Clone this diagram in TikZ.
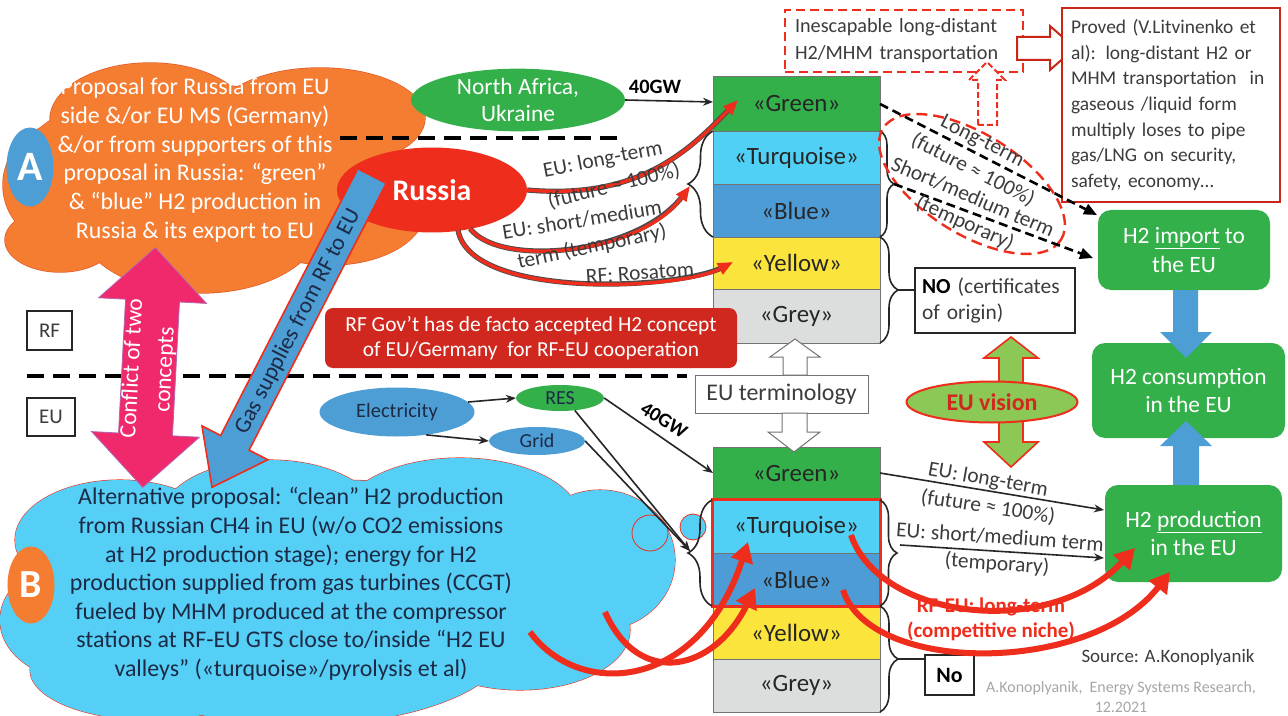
\documentclass[tikz,border=0pt]{standalone}
\usepackage{fontspec}
\setmainfont{Carlito}
\usetikzlibrary{shapes.geometric,arrows.meta,decorations.pathreplacing,calc}
\definecolor{corange}{RGB}{245,125,50}
\definecolor{corline}{RGB}{225,90,40}
\definecolor{cblueA}{RGB}{78,158,214}
\definecolor{ccloudB}{RGB}{85,207,245}
\definecolor{cgreen}{RGB}{52,176,75}
\definecolor{cturq}{RGB}{80,208,245}
\definecolor{cblue}{RGB}{78,156,214}
\definecolor{cyellow}{RGB}{251,228,60}
\definecolor{cgrey}{RGB}{220,222,222}
\definecolor{cred}{RGB}{238,45,28}
\definecolor{cdred}{RGB}{208,40,30}
\definecolor{cpink}{RGB}{240,40,108}
\definecolor{clgreen}{RGB}{140,200,85}
\definecolor{ctext}{RGB}{60,60,60}
\definecolor{cnavy}{RGB}{28,42,70}
\newcommand{\myfs}[2]{\fontsize{#1}{#2}\selectfont}
\def\cloudAlist{150/120/100/57, 320/118/105/50, 75/185/72/65, 200/225/120/68, 330/210/95/55, 60/240/55/32, 200/165/180/80}
\def\cloudBlist{120/540/105/60, 270/520/110/60, 460/520/120/62, 600/560/75/70, 80/620/80/60, 300/640/210/85, 520/630/110/60, 150/670/120/50, 330/580/300/100}
\begin{document}
\begin{tikzpicture}[x=1bp,y=-1bp,
 lbl/.style={font=\myfs{21.5}{24}, text=ctext, inner sep=0},
 stk/.style={draw=black!55, line width=0.8bp, minimum width=167bp, minimum height=53bp, inner sep=0, font=\myfs{25}{28}, text=black!85},
 brc/.style={decorate, decoration={brace, amplitude=#1bp}, line width=1.6bp, draw=black!85},
 dline/.style={line width=4.5bp, dash pattern=on 17bp off 9bp, draw=black},
 barr/.style={line width=1.6bp, draw=black!85, -{Stealth[length=10bp,width=8bp]}},
 darr/.style={line width=2.6bp, draw=black, dash pattern=on 9bp off 5bp, -{Triangle[length=13bp,width=11bp]}},
 rarr/.style={line width=3.4bp, draw=cred, -{Triangle[length=15bp,width=12bp]}, preaction={draw=black!70, line width=5.2bp, -, shorten >=10bp}},
 rarrb/.style={line width=6bp, draw=cred, -{Triangle[length=20bp,width=22bp]}},
 gbox/.style={rounded corners=13bp, fill=cgreen, text=white, align=center, font=\myfs{23.5}{29}, inner sep=0}
]
\fill[white] (0,0) rectangle (1288,716);
\useasboundingbox (0,0) rectangle (1288,716);

% ---------- clouds ----------
\foreach \a/\b/\c/\d in \cloudAlist
  \draw[corline, line width=1.4bp] (\a,\b) ellipse [x radius=\c, y radius=\d];
\foreach \a/\b/\c/\d in \cloudAlist
  \fill[corange] (\a,\b) ellipse [x radius=\c, y radius=\d];
\foreach \a/\b/\c/\d in \cloudBlist
  \draw[cred, line width=1.1bp] (\a,\b) ellipse [x radius=\c, y radius=\d];
\foreach \a/\b/\c/\d in \cloudBlist
  \fill[ccloudB] (\a,\b) ellipse [x radius=\c, y radius=\d];
\filldraw[fill=ccloudB, draw=cred, line width=0.8bp] (650,533) circle [radius=18];
\filldraw[fill=ccloudB, draw=cred, line width=0.8bp] (693,527) circle [radius=13];

% ---------- dashed separators ----------
\coordinate (d1a) at (340,138); \coordinate (d1b) at (618,138);
\draw[dline] (d1a) -- (d1b);
\coordinate (d2a) at (27,376); \coordinate (d2b) at (687,376);
\draw[dline] (d2a) -- (d2b);

% ---------- badges and cloud texts ----------
\node[ellipse, fill=cblueA, minimum width=47bp, minimum height=79bp, inner sep=0, text=white, font=\myfs{42}{42}\bfseries] (A) at (30,167) {A};
\node[ellipse, fill=corange, minimum width=47bp, minimum height=77bp, inner sep=0, text=white, font=\myfs{40}{40}\bfseries] (B) at (31,585) {B};
\node[text=white, align=center, inner sep=0, font=\myfs{24}{28.8}] (tA) at (195,160)
 {Proposal for Russia from EU\\side \&/or EU MS (Germany)\\\&/or from supporters of this\\proposal in Russia: “green”\\\& “blue” H2 production in\\Russia \& its export to EU};
\node[text=cnavy, align=center, inner sep=0, font=\myfs{24}{28.7}] (tB) at (291,584)
 {Alternative proposal: “clean” H2 production\\from Russian CH4 in EU (w/o CO2 emissions\\at H2 production stage); energy for H2\\production supplied from gas turbines (CCGT)\\fueled by MHM produced at the compressor\\stations at RF-EU GTS close to/inside “H2 EU\\valleys” («turquoise»/pyrolysis et al)};

% ---------- RF / EU labels ----------
\node[draw=black!85, line width=1.6bp, minimum width=45bp, minimum height=39bp, inner sep=0, font=\myfs{21}{22}, text=ctext] (RF) at (49.5,330.5) {RF};
\node[draw=black!85, line width=1.6bp, minimum width=48bp, minimum height=38bp, inner sep=0, font=\myfs{21}{22}, text=ctext] (EU) at (51,417) {EU};

% ---------- ellipses top ----------
\node[ellipse, fill=cgreen, minimum width=214bp, minimum height=54bp, inner sep=0, text=white, align=center, font=\myfs{23.5}{28}] (NA) at (518,100) {North Africa,\\Ukraine};
\node[ellipse, fill=cred, minimum width=190bp, minimum height=85bp, inner sep=0, text=white, font=\myfs{30}{32}\bfseries] (RU) at (432,190) {Russia};

% ---------- conflict arrow ----------
\begin{scope}[shift={(149,367.5)}, rotate=-3]
\filldraw[fill=cpink, draw=violet!60, line width=0.8bp] (0,-120) -- (54,-67) -- (27,-67) -- (27,67) -- (54,67) -- (0,120) -- (-54,67) -- (-27,67) -- (-27,-67) -- (-54,-67) -- cycle;
\end{scope}
\node[rotate=87, text=white, align=center, inner sep=0, font=\myfs{23.5}{33}] (conf) at (149,369) {Conflict of two\\concepts};

% ---------- gas supplies arrow ----------
\begin{scope}[shift={(372,176)}, rotate=-117.2]
\filldraw[fill=cblueA, draw=cred, line width=1.6bp] (0,-16) -- (300,-16) -- (300,-37) -- (350,0) -- (300,37) -- (300,16) -- (0,16) -- cycle;
\end{scope}
\node[rotate=62.8, text=cnavy, inner sep=0, font=\myfs{23}{24}] (gas) at (298,322) {Gas supplies from RF to EU};

% ---------- upper stack ----------
\node[stk, fill=cgreen, minimum height=55bp] (ug) at (796.5,103.5) {«Green»};
\node[stk, fill=cturq] (ut) at (796.5,157.5) {«Turquoise»};
\node[stk, fill=cblue] (ub) at (796.5,210.5) {«Blue»};
\node[stk, fill=cyellow, minimum height=52bp] (uy) at (796.5,263) {«Yellow»};
\node[stk, fill=cgrey, minimum height=54bp] (ugr) at (796.5,316) {«Grey»};
\draw[brc=25] (713,237) -- (713,131);
\draw[brc=14] (880,131) -- (880,237);
\draw[brc=18] (880,237) -- (880,343);
\coordinate (ulb) at (690,186);
\coordinate (urb1) at (894,184);
\coordinate (urb2) at (898,290);

% ---------- lower stack ----------
\node[stk, fill=cgreen] (lg) at (796.5,473.5) {«Green»};
\node[stk, fill=cturq] (lt) at (796.5,526.5) {«Turquoise»};
\node[stk, fill=cblue] (lb) at (796.5,579.5) {«Blue»};
\node[stk, fill=cyellow] (ly) at (796.5,632.5) {«Yellow»};
\node[stk, fill=cgrey] (lgr) at (796.5,685.5) {«Grey»};
\draw[cred, line width=2.8bp] (lt.north west) rectangle (lb.south east);
\draw[brc=24] (712,606) -- (712,500);
\draw[brc=17] (880,500) -- (880,606);
\draw[brc=18] (880,606) -- (880,712);
\coordinate (llb) at (690,551);
\coordinate (lrb1) at (900,545);
\coordinate (lrb2) at (898,659);

% ---------- RF Gov box ----------
\node[fill=cdred, rounded corners=8bp, minimum width=412bp, minimum height=60bp, inner sep=0, text=white, align=center, font=\myfs{21.5}{25}] (gov) at (531,338) {RF Gov’t has de facto accepted H2 concept\\of EU/Germany\ \ for RF-EU cooperation};

% ---------- electricity ----------
\node[ellipse, fill=cblueA, minimum width=155bp, minimum height=49bp, inner sep=0, font=\myfs{20.5}{22}, text=cnavy] (el) at (397,412) {Electricity};
\node[ellipse, fill=cgreen, minimum width=88bp, minimum height=26bp, inner sep=0, font=\myfs{20}{22}, text=cnavy] (res) at (560,398) {RES};
\node[ellipse, fill=cblueA, minimum width=96bp, minimum height=28bp, inner sep=0, font=\myfs{20}{22}, text=cnavy] (grid) at (537,441) {Grid};
\draw[barr] (el.8) -- (res.west);
\draw[barr] (el.-38) -- (grid.west);
\coordinate (lgIn) at (713,473);
\draw[barr] (res.east) -- (lgIn);
\draw[barr] (res.-40) -- (llb);
\draw[barr] (grid.east) -- (llb);
\node[rotate=-32, inner sep=0, font=\myfs{20}{22}\bfseries] (gw2) at (664,420) {40GW};

% ---------- top inputs ----------
\node[inner sep=0, font=\myfs{20.5}{22}\bfseries] (gw1) at (655,87) {40GW};
\coordinate (ugIn) at (713,102);
\draw[barr] (NA.east) -- (ugIn);

% ---------- Russia red arrows ----------
\coordinate (r1e) at (738,100);
\coordinate (r2s) at (470,228.5);
\coordinate (r3s) at (458,230);
\coordinate (r3e) at (733,262);
\draw[rarr] (RU.east) .. controls (640,200) and (690,150) .. (r1e);
\draw[rarr] (r2s) .. controls (500,268) and (640,255) .. (ulb);
\draw[rarr] (r3s) .. controls (470,300) and (680,290) .. (r3e);
\node[lbl, rotate=11] (l1) at (603,160) {EU: long-term};
\node[lbl, rotate=14] (l2) at (614,186) {(future ≈ 100\%)};
\node[lbl, rotate=9] (l3) at (582,220) {EU: short/medium};
\node[lbl, rotate=12] (l4) at (592,247) {term (temporary)};
\node[lbl, rotate=4] (l5) at (640,273) {RF: Rosatom};

% ---------- EU terminology ----------
\node[draw=black!55, fill=white, line width=1bp, minimum width=173bp, minimum height=38bp, inner sep=0, font=\myfs{24}{26}, text=ctext] (term) at (781.5,394) {EU terminology};
\filldraw[fill=white, draw=black!55, line width=1bp] (783,375) -- (783,357) -- (770,357) -- (795,339) -- (820,357) -- (807,357) -- (807,375) -- cycle;
\filldraw[fill=white, draw=black!55, line width=1bp] (782,413) -- (782,432) -- (768,432) -- (794,452) -- (820,432) -- (807,432) -- (807,413) -- cycle;

% ---------- NO box ----------
\node[draw=black!85, line width=1.6bp, minimum width=160bp, minimum height=65bp, inner sep=0, text width=146bp, align=left, font=\myfs{21.5}{27}, text=ctext] (NO) at (995,300.5) {\textbf{\color{black}NO} (certificates\\of origin)};
\draw[line width=1.6bp, black!85] (urb2) -- (NO.west |- urb2);

% ---------- EU vision ----------
\filldraw[fill=clgreen, draw=cred, line width=1.6bp] (1011,337) -- (1038,358) -- (1023,358) -- (1023,442) -- (1038,442) -- (1011,467) -- (984,442) -- (999,442) -- (999,358) -- (984,358) -- cycle;
\node[ellipse, fill=clgreen, draw=cred, line width=2bp, minimum width=171bp, minimum height=41bp, inner sep=0, font=\myfs{24}{26}\bfseries, text=cdred] (vis) at (992,402) {EU vision};

% ---------- top right ----------
\draw[cred, line width=2.4bp, dash pattern=on 11bp off 6bp, rotate around={-32:(972,184)}] (972,184) ellipse [x radius=105, y radius=50];
\node[draw=cred, line width=2.2bp, dash pattern=on 9bp off 5bp, minimum width=238bp, minimum height=62bp, inner sep=0, text width=218bp, align=left, font=\myfs{20.3}{27}, text=ctext] (ines) at (904,41) {Inescapable long-distant\\H2/MHM transportation};
\filldraw[fill=white, draw=cred, line width=2bp, dash pattern=on 6bp off 3bp] (978,125) -- (978,80) -- (969,80) -- (987,62) -- (1005,80) -- (997,80) -- (997,125) -- cycle;
\filldraw[fill=white, draw=cred!85!black, line width=2bp] (1017,37) -- (1050,37) -- (1050,26) -- (1075,48) -- (1050,70) -- (1050,60) -- (1017,60) -- cycle;
\node[draw=cred!85!black, line width=2.5bp, fill=white, minimum width=218bp, minimum height=194bp, inner sep=0, text width=204bp, align=left, font=\myfs{19.5}{25.8}, text=ctext] (prov) at (1171,105)
 {\hspace*{2bp}Proved (V.Litvinenko et\\\hspace*{2bp}al): long-distant H2 or\\\hspace*{2bp}MHM transportation\ \ in\\\hspace*{2bp}gaseous /liquid form\\\hspace*{2bp}multiply loses to pipe\\\hspace*{2bp}gas/LNG on security,\\\hspace*{2bp}safety, economy…};

\node[gbox, minimum width=172bp, minimum height=80bp] (imp) at (1184,250) {H2 \underline{import} to\\the EU};
\node[gbox, minimum width=193bp, minimum height=95bp] (cons) at (1188.5,390.5) {H2 consumption\\in the EU};
\node[gbox, minimum width=177bp, minimum height=97bp] (prod) at (1193.5,533.5) {H2 \underline{production}\\in the EU};
\fill[cblueA] (1173,290) -- (1198,290) -- (1198,332) -- (1212,332) -- (1186,358) -- (1160,332) -- (1173,332) -- cycle;
\fill[cblueA] (1173,485) -- (1199,485) -- (1199,446) -- (1212,446) -- (1186,421) -- (1160,446) -- (1173,446) -- cycle;

\coordinate (impA) at (1097,215);
\coordinate (impB) at (1093,258);
\coordinate (ugR) at (880,104);
\draw[darr] (ugR) -- (impA);
\draw[darr] (urb1) -- (impB);
\node[lbl, rotate=-27] (k1) at (982,142) {Long-term};
\node[lbl, rotate=-27] (k2) at (973,170) {(future ≈ 100\%)};
\node[lbl, rotate=-23] (k3) at (973,197) {Short/medium term};
\node[lbl, rotate=-24] (k4) at (965,223) {(temporary)};

% ---------- lower right ----------
\coordinate (lgR) at (880,473);
\coordinate (prA) at (1104,510);
\coordinate (prB) at (1104,558);
\draw[barr] (lgR) -- (prA);
\draw[barr] (lrb1) -- (prB);
\node[lbl, rotate=-10] (m1) at (988,480) {EU: long-term};
\node[lbl, rotate=-8.5] (m2) at (988,507) {(future ≈ 100\%)};
\node[lbl, rotate=-4] (m3) at (1000,537) {EU: short/medium term};
\node[lbl, rotate=-4] (m4) at (997,564) {(temporary)};

\node[draw=black!85, line width=2bp, minimum width=49bp, minimum height=40bp, inner sep=0, font=\myfs{22}{24}\bfseries] (No) at (949.5,675) {No};
\draw[line width=1.6bp, black!85] (lrb2) -- (No.west |- lrb2);

% ---------- lower red arrows ----------
\coordinate (qa) at (530,632); \coordinate (qaE) at (748,542);
\coordinate (qb) at (605,612); \coordinate (qbE) at (755,588);
\coordinate (qc) at (851,535); \coordinate (qcE) at (1135,548);
\coordinate (qd) at (843,590); \coordinate (qdE) at (1170,572);
\draw[rarrb] (qa) .. controls (580,700) and (700,690) .. (qaE);
\draw[rarrb] (qb) .. controls (640,690) and (715,670) .. (qbE);
\draw[rarrb] (qc) .. controls (880,620) and (1050,640) .. (qcE);
\draw[rarrb] (qd) .. controls (870,675) and (1090,675) .. (qdE);
\node[inner sep=0, align=center, text=cred, font=\myfs{21}{25}\bfseries] (niche) at (991,619) {RF-EU: long-term\\(competitive niche)};

% ---------- source ----------
\node[inner sep=0, font=\myfs{19}{20}, text=ctext] (src) at (1168,657) {Source: A.Konoplyanik};
\node[inner sep=0, align=center, font=\myfs{16}{20}, text=black!35] (cit) at (1121,697) {A.Konoplyanik,\ \ Energy Systems Research,\\12.2021};
\end{tikzpicture}
\end{document}
